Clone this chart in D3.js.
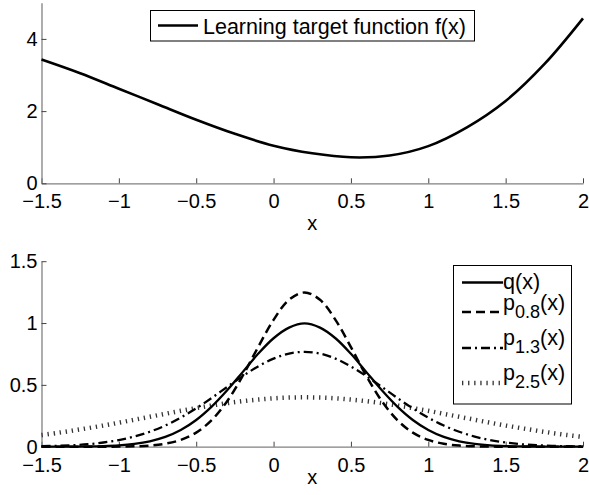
<!DOCTYPE html>
<html>
<head>
<meta charset="utf-8">
<script src="https://cdn.jsdelivr.net/npm/d3@7"></script>
<style>
  body { margin: 0; background: #fff; }
  svg { display: block; }
</style>
</head>
<body>
<div id="chart"></div>
<script>
// top panel: target function, read at steps of 0.25
var fX = [-1.5, -1.25, -1, -0.75, -0.5, -0.25, 0, 0.25, 0.5, 0.75, 1, 1.25, 1.5, 1.75, 2];
var fY = [3.43, 3.05, 2.62, 2.19, 1.76, 1.37, 1.04, 0.83, 0.72, 0.77, 1.03, 1.55, 2.28, 3.30, 4.57];

// bottom panel: densities, read at steps of 0.1
var gridX = [-1.5, -1.4, -1.3, -1.2, -1.1, -1.0, -0.9, -0.8, -0.7, -0.6, -0.5, -0.4, -0.3, -0.2, -0.1, 0,
             0.1, 0.2, 0.3, 0.4, 0.5, 0.6, 0.7, 0.8, 0.9, 1.0, 1.1, 1.2, 1.3, 1.4, 1.5, 1.6, 1.7, 1.8, 1.9, 2.0];
var qY = [0, 0, 0.001, 0.002, 0.005, 0.011, 0.023, 0.044, 0.079, 0.135, 0.216, 0.324, 0.456, 0.603, 0.751, 0.877,
          0.963, 0.997, 0.963, 0.877, 0.751, 0.603, 0.456, 0.324, 0.216, 0.135, 0.079, 0.044, 0.023, 0.011, 0.005, 0.002, 0.001, 0, 0, 0];
var p08Y = [0, 0, 0, 0, 0, 0.001, 0.003, 0.009, 0.024, 0.055, 0.114, 0.215, 0.368, 0.572, 0.805, 1.026,
            1.188, 1.247, 1.188, 1.026, 0.805, 0.572, 0.368, 0.215, 0.114, 0.055, 0.024, 0.009, 0.003, 0.001, 0, 0, 0, 0, 0, 0];
var p13Y = [0.004, 0.007, 0.012, 0.020, 0.034, 0.053, 0.082, 0.121, 0.171, 0.235, 0.310, 0.394, 0.483, 0.570, 0.649, 0.712,
            0.753, 0.767, 0.753, 0.712, 0.649, 0.570, 0.483, 0.394, 0.310, 0.235, 0.171, 0.121, 0.082, 0.053, 0.034, 0.020, 0.012, 0.007, 0.004, 0.002];
var p25Y = [0.094, 0.111, 0.130, 0.150, 0.171, 0.194, 0.218, 0.242, 0.266, 0.290, 0.312, 0.333, 0.352, 0.368, 0.381, 0.391,
            0.397, 0.399, 0.397, 0.391, 0.381, 0.368, 0.352, 0.333, 0.312, 0.290, 0.266, 0.242, 0.218, 0.194, 0.171, 0.150, 0.130, 0.111, 0.094, 0.079];

var xTicks = [-1.5, -1, -0.5, 0, 0.5, 1, 1.5, 2];
var yTicksTop = [0, 2, 4];
var yTicksBot = [0, 0.5, 1, 1.5];

var topLegend = "Learning target function f(x)";
var botLegend = [
  {name: "q", sub: null, values: qY, dash: null, width: 2.3, color: "#000"},
  {name: "p", sub: "0.8", values: p08Y, dash: "9,5", width: 2.5, color: "#000"},
  {name: "p", sub: "1.3", values: p13Y, dash: "9,4,2,4", width: 2.3, color: "#000"},
  {name: "p", sub: "2.5", values: p25Y, dash: "1.3,4.8", width: 4.5, color: "#333"}
];

var font = "'Liberation Sans', Arial, Helvetica, sans-serif";
var width = 589, height = 495;

var svg = d3.select("#chart").append("svg")
    .attr("width", width)
    .attr("height", height)
    .style("font-family", font);

var x = d3.scaleLinear().domain([-1.5, 2]).range([41.5, 583]);
var yTop = d3.scaleLinear().domain([0, 5]).range([183.3, 2.8]);
var yBot = d3.scaleLinear().domain([0, 1.5]).range([446.7, 261.2]);

var fmt = d3.format("~g");

function styleAxis(g) {
    g.attr("font-size", 20).attr("font-family", font);
    g.select(".domain").attr("stroke", "#808080").attr("stroke-width", 1.3);
    g.selectAll(".tick line").attr("stroke", "#444");
    g.selectAll(".tick text").attr("fill", "#000");
}

function drawAxes(y, yTicks, xLabelY) {
    svg.append("g")
        .attr("transform", "translate(0," + y.range()[0] + ")")
        .call(d3.axisBottom(x).tickValues(xTicks).tickFormat(fmt).tickSize(-5).tickSizeOuter(0).tickPadding(11))
        .call(styleAxis);

    svg.append("g")
        .attr("transform", "translate(" + x.range()[0] + ",0)")
        .call(d3.axisLeft(y).tickValues(yTicks).tickFormat(fmt).tickSize(-5).tickSizeOuter(0).tickPadding(4))
        .call(styleAxis);

    svg.append("text")
        .attr("x", (x.range()[0] + x.range()[1]) / 2)
        .attr("y", xLabelY)
        .attr("text-anchor", "middle")
        .attr("font-size", 20)
        .text("x");
}

drawAxes(yTop, yTicksTop, 230);
drawAxes(yBot, yTicksBot, 484);

// top curve
var fLine = d3.line()
    .x(function(d, i) { return x(fX[i]); })
    .y(function(d) { return yTop(d); })
    .curve(d3.curveCatmullRom);

svg.append("path")
    .attr("d", fLine(fY))
    .attr("fill", "none")
    .attr("stroke", "#000")
    .attr("stroke-width", 2.6);

// bottom curves
var gLine = d3.line()
    .x(function(d, i) { return x(gridX[i]); })
    .y(function(d) { return yBot(d); })
    .curve(d3.curveCatmullRom);

botLegend.slice().reverse().forEach(function(s) {
    svg.append("path")
        .attr("d", gLine(s.values))
        .attr("fill", "none")
        .attr("stroke", s.color)
        .attr("stroke-width", s.width)
        .attr("stroke-dasharray", s.dash);
});

// top legend
var lt = svg.append("g");
lt.append("rect")
    .attr("x", 150.5).attr("y", 10.5)
    .attr("width", 324).attr("height", 30.5)
    .attr("fill", "#fff").attr("stroke", "#000").attr("stroke-width", 1);
lt.append("line")
    .attr("x1", 158).attr("x2", 198).attr("y1", 25.5).attr("y2", 25.5)
    .attr("stroke", "#000").attr("stroke-width", 2.6);
lt.append("text")
    .attr("x", 203).attr("y", 33.5)
    .attr("font-size", 21.5)
    .text(topLegend);

// bottom legend
var lb = svg.append("g");
lb.append("rect")
    .attr("x", 453.5).attr("y", 265.5)
    .attr("width", 118).attr("height", 138.5)
    .attr("fill", "#fff").attr("stroke", "#000").attr("stroke-width", 1);

var rowLine = [282.5, 312, 348, 383];
var rowText = [289, 310, 345, 380];

botLegend.forEach(function(s, i) {
    lb.append("line")
        .attr("x1", 462).attr("x2", 503)
        .attr("y1", rowLine[i]).attr("y2", rowLine[i])
        .attr("stroke", s.color)
        .attr("stroke-width", s.width)
        .attr("stroke-dasharray", s.dash);
    var t = lb.append("text")
        .attr("x", 503).attr("y", rowText[i])
        .attr("font-size", 21.5);
    t.append("tspan").text(s.name);
    if (s.sub) {
        t.append("tspan").attr("dy", 8).attr("font-size", 18).text(s.sub);
        t.append("tspan").attr("dy", -8).text("(x)");
    } else {
        t.append("tspan").text("(x)");
    }
});
</script>
</body>
</html>
